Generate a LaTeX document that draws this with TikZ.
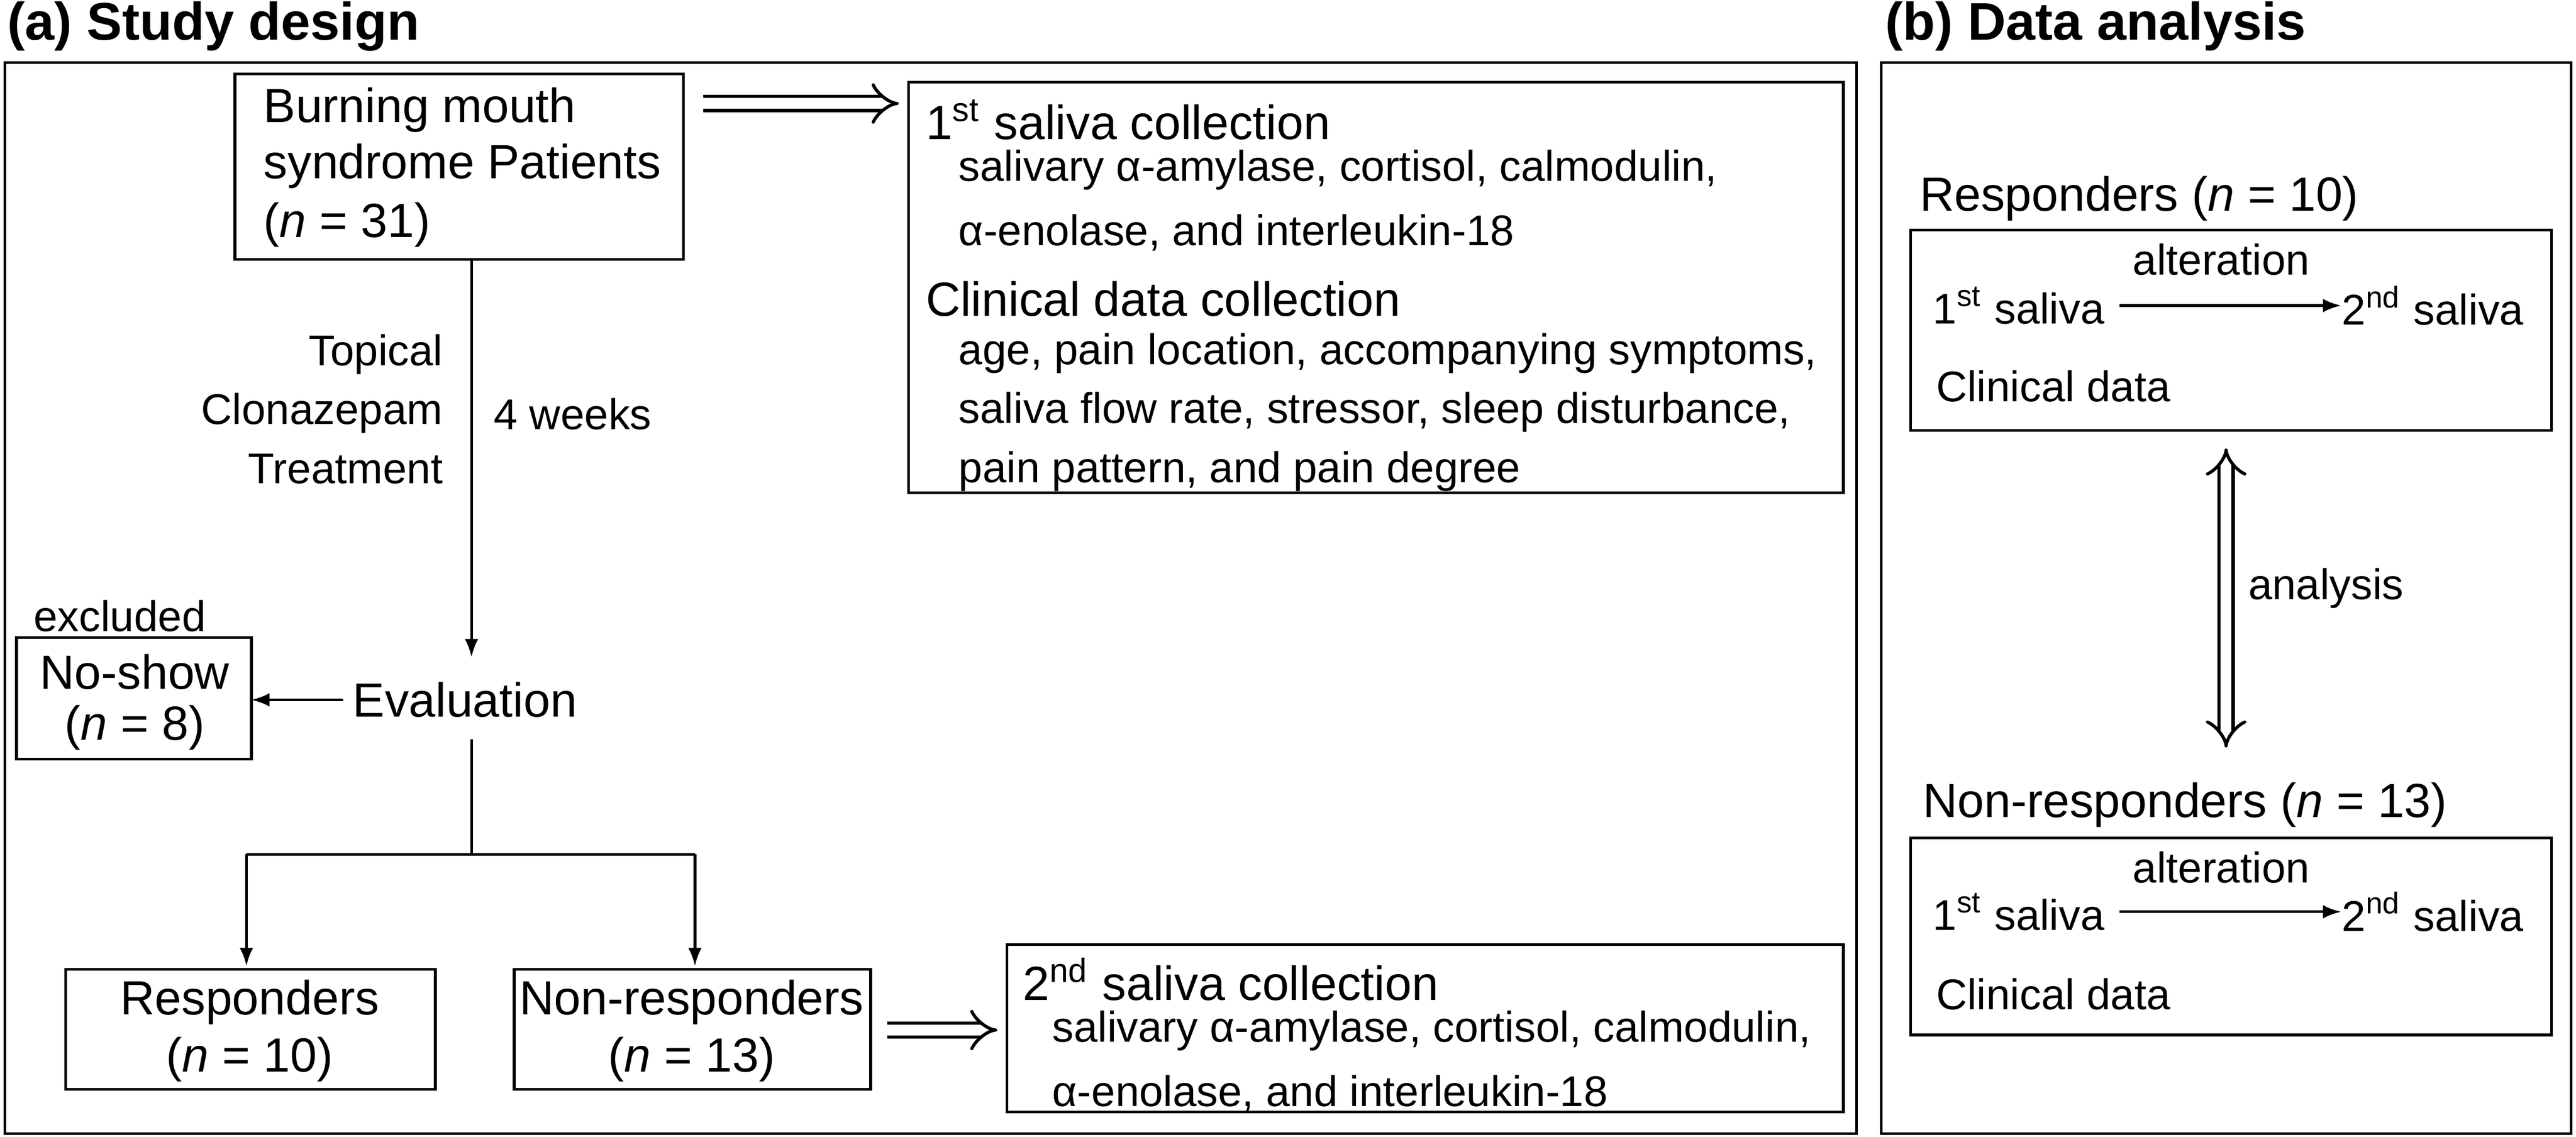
\documentclass[tikz,border=0pt]{standalone}
\usepackage{fontspec}
\setmainfont{Liberation Sans}
\usetikzlibrary{arrows.meta,positioning}
\tikzset{
  box/.style={draw, line width=0.6pt},
  big/.style={font=\fontsize{10.6}{12.7}\selectfont, inner sep=0pt},
  small/.style={font=\fontsize{9.5}{13}\selectfont, inner sep=0pt, align=left},
  hollow/.style={double, double distance=2.4pt, line width=0.7pt, -{Implies[length=5pt]}},
  flow/.style={line width=0.6pt, -{Latex[length=4pt]}}
}
\begin{document}
\begin{tikzpicture}[x=0.012755cm, y=-0.012755cm]
\useasboundingbox (0,0) rectangle (1568,692);
% frames
\node[font=\fontsize{11.7}{13}\selectfont\bfseries, inner sep=0pt, anchor=west] (ta) at (4,16) {(a) Study design};
\node[font=\fontsize{11.7}{13}\selectfont\bfseries, inner sep=0pt, anchor=west] (tb) at (1147,16) {(b) Data analysis};
\draw[box] (3,38) rectangle (1130,690);
\draw[box] (1145,38) rectangle (1565,690);
% study design
\draw[box] (143,45) rectangle (416,158);
\node[big, anchor=west] (bms) at (160,67) {Burning mouth};
\node[big, anchor=west] (bms2) at (160,101) {syndrome Patients};
\node[big, anchor=west] (bmsn) at (160,137) {(\textit{n} = 31)};
\coordinate (bmsb) at (287,158);
\draw[box] (553,50) rectangle (1122,300);
\node[big, anchor=west] (s1) at (563,73) {1\textsuperscript{st} saliva collection};
\node[small, anchor=west, font=\fontsize{9.5}{14.2}\selectfont] (s1l) at (583,122) {salivary α-amylase, cortisol, calmodulin,\\α-enolase, and interleukin-18};
\node[big, anchor=west] (cd) at (563,182) {Clinical data collection};
\node[small, anchor=west] (cdl) at (583,251) {age, pain location, accompanying symptoms,\\saliva flow rate, stressor, sleep disturbance,\\pain pattern, and pain degree};
\coordinate (h1a) at (428,63);
\coordinate (h1b) at (547,63);
\draw[hollow] (h1a) -- (h1b);
\node[small, align=right, anchor=east] (tct) at (270,249) {Topical\\Clonazepam\\Treatment};
\node[small, anchor=west] (wk) at (300,252) {4 weeks};
\node[big] (ev) at (283,426) {Evaluation};
\draw[flow] (bmsb) -- (287,400);
\draw[box] (10,388) rectangle (153,462);
\node[big] (ns) at (82,409) {No-show};
\node[big] (nsn) at (82,443) {(\textit{n} = 8)};
\node[small, anchor=west] (ex) at (20,375) {excluded};
\draw[flow] (ev.west) ++(-2pt,0) -- (153,426);
\coordinate (split) at (287,520);
\draw[line width=0.6pt] (287,450) -- (split);
\draw[line width=0.6pt] (150,520) -- (423,520);
\draw[flow] (150,520) -- (150,588);
\draw[flow] (423,520) -- (423,588);
\draw[box] (40,590) rectangle (265,663);
\node[big] (resp) at (152,610) {Responders};
\node[big] (respn) at (152,645) {(\textit{n} = 10)};
\draw[box] (313,590) rectangle (530,663);
\node[big] (nonresp) at (421,610) {Non-responders};
\node[big] (nonrespn) at (421,645) {(\textit{n} = 13)};
\draw[hollow] (540,627) -- (607,627);
\draw[box] (613,575) rectangle (1122,677);
\node[big, anchor=west] (s2) at (622,596) {2\textsuperscript{nd} saliva collection};
\node[small, anchor=west, font=\fontsize{9.5}{14.2}\selectfont] (s2l) at (640,646) {salivary α-amylase, cortisol, calmodulin,\\α-enolase, and interleukin-18};
% data analysis
\node[big, anchor=west] (rh) at (1168,121) {Responders (\textit{n} = 10)};
\draw[box] (1163,140) rectangle (1553,262);
\node[small] (ra) at (1352,158) {alteration};
\node[small, anchor=west] (r1) at (1176,186) {1\textsuperscript{st} saliva};
\node[small, anchor=west] (r2) at (1425,186) {2\textsuperscript{nd} saliva};
\draw[flow] (1290,186) -- (r2.west);
\node[small, anchor=west] (rc) at (1178,235) {Clinical data};
\draw[double, double distance=2.4pt, line width=0.7pt, {Implies[length=5pt]}-{Implies[length=5pt]}] (1355,273) -- (1355,455);
\node[small, anchor=west] (an) at (1368,358) {analysis};
\node[big, anchor=west] (nh) at (1170,490) {Non-responders (\textit{n} = 13)};
\draw[box] (1163,510) rectangle (1553,630);
\node[small] (na) at (1352,528) {alteration};
\node[small, anchor=west] (n1) at (1176,555) {1\textsuperscript{st} saliva};
\node[small, anchor=west] (n2) at (1425,555) {2\textsuperscript{nd} saliva};
\draw[flow] (1290,555) -- (n2.west);
\node[small, anchor=west] (nc) at (1178,605) {Clinical data};
\end{tikzpicture}
\end{document}
